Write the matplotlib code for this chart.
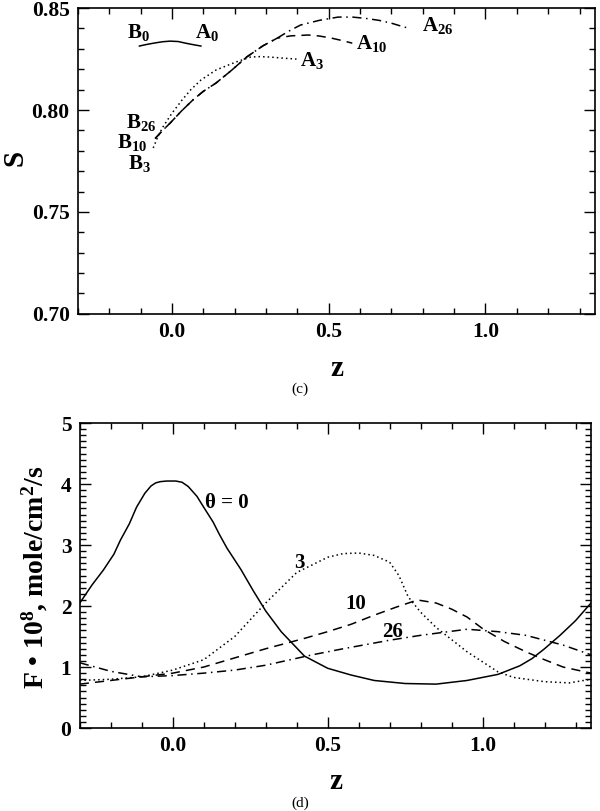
import matplotlib
matplotlib.use("Agg")
import matplotlib.pyplot as plt
from matplotlib.ticker import MultipleLocator

plt.rcParams['font.family'] = ['Liberation Serif', 'DejaVu Serif']
plt.rcParams['font.weight'] = 'bold'
plt.rcParams['mathtext.fontset'] = 'custom'
plt.rcParams['mathtext.rm'] = 'Liberation Serif:bold'
plt.rcParams['mathtext.bf'] = 'Liberation Serif:bold'
plt.rcParams['mathtext.it'] = 'Liberation Serif:bold'

# ---------------- panel (c): S vs z ----------------
c_z0 = [-0.104, -0.08, -0.055, -0.03, -0.006, 0.02, 0.043, 0.07, 0.092]
c_s0 = [0.8314, 0.8322, 0.8329, 0.8335, 0.8338, 0.8336, 0.8328, 0.8320, 0.8314]

c_z3 = [-0.06, -0.045, -0.029, 0.0, 0.032, 0.06, 0.092, 0.14, 0.203, 0.251, 0.28, 0.311, 0.35, 0.397]
c_s3 = [0.7814, 0.7870, 0.7917, 0.7985, 0.8049, 0.8100, 0.8147, 0.8196, 0.8235, 0.8260, 0.8262, 0.8260, 0.8255, 0.8250]

c_z10 = [-0.054, -0.03, -0.006, 0.03, 0.067, 0.10, 0.14, 0.19, 0.238, 0.29, 0.336, 0.38, 0.435, 0.47, 0.508, 0.545, 0.575]
c_s10 = [0.7860, 0.7900, 0.7936, 0.7995, 0.8050, 0.8092, 0.8132, 0.8195, 0.8260, 0.8315, 0.8353, 0.8364, 0.8368, 0.8363, 0.8353, 0.8340, 0.8328]

c_z26 = [-0.054, -0.03, -0.006, 0.03, 0.067, 0.10, 0.14, 0.19, 0.238, 0.29, 0.336, 0.37, 0.41, 0.47, 0.53, 0.575, 0.616, 0.66, 0.70, 0.73, 0.758]
c_s26 = [0.7860, 0.7900, 0.7936, 0.7995, 0.8050, 0.8092, 0.8132, 0.8195, 0.8260, 0.8315, 0.8353, 0.8385, 0.8417, 0.8440, 0.8456, 0.8456, 0.8450, 0.8440, 0.8426, 0.8412, 0.8400]

c_labels = ['B$_0$', 'A$_0$', 'A$_{26}$', 'A$_{10}$', 'A$_3$', 'B$_{26}$', 'B$_{10}$', 'B$_3$']
c_label_z = [-0.108, 0.111, 0.848, 0.638, 0.448, -0.098, -0.127, -0.105]
c_label_s = [0.8382, 0.8382, 0.8417, 0.8328, 0.8245, 0.7940, 0.7843, 0.7740]

# ---------------- panel (d): F vs z ----------------
d_z0 = [-0.30, -0.26, -0.224, -0.19, -0.169, -0.14, -0.117, -0.09, -0.07, -0.055, -0.04, -0.02, 0.01, 0.03, 0.05, 0.078, 0.10, 0.13,
        0.15, 0.175, 0.22, 0.26, 0.30, 0.35, 0.425, 0.50, 0.575, 0.65, 0.75, 0.85, 0.95, 1.05, 1.12, 1.16, 1.20, 1.25, 1.30, 1.35]
d_f0 = [2.05, 2.35, 2.59, 2.85, 3.08, 3.35, 3.62, 3.85, 3.97, 4.02, 4.04, 4.05, 4.05, 4.03, 3.96, 3.80, 3.62, 3.38,
        3.18, 2.95, 2.60, 2.25, 1.92, 1.58, 1.18, 0.98, 0.87, 0.78, 0.73, 0.72, 0.78, 0.88, 1.02, 1.14, 1.30, 1.52, 1.76, 2.05]

d_z3 = [-0.30, -0.2, -0.1, 0.0, 0.1, 0.2, 0.3, 0.4, 0.5, 0.55, 0.6, 0.65, 0.70, 0.73, 0.76, 0.80, 0.85, 0.95, 1.05, 1.10, 1.20, 1.28, 1.35]
d_f3 = [0.78, 0.80, 0.84, 0.95, 1.12, 1.50, 2.05, 2.55, 2.80, 2.86, 2.87, 2.83, 2.72, 2.50, 2.15, 1.90, 1.65, 1.25, 0.92, 0.83, 0.76, 0.74, 0.80]

d_z10 = [-0.3, -0.2, -0.1, 0.0, 0.1, 0.2, 0.3, 0.425, 0.5, 0.575, 0.65, 0.72, 0.79, 0.85, 0.9, 0.95, 1.0, 1.07, 1.14, 1.2, 1.26, 1.35]
d_f10 = [0.72, 0.78, 0.84, 0.90, 1.00, 1.15, 1.30, 1.47, 1.58, 1.70, 1.85, 1.98, 2.10, 2.05, 1.95, 1.82, 1.63, 1.42, 1.25, 1.12, 1.00, 0.90]

d_z26 = [-0.3, -0.2, -0.1, 0.0, 0.1, 0.2, 0.3, 0.45, 0.55, 0.70, 0.80, 0.86, 0.95, 1.05, 1.14, 1.26, 1.35]
d_f26 = [1.07, 0.93, 0.84, 0.86, 0.90, 0.95, 1.03, 1.20, 1.30, 1.44, 1.52, 1.56, 1.62, 1.58, 1.52, 1.36, 1.20]

d_labels = ['θ = 0', '3', '10', '26']
d_label_z = [0.175, 0.41, 0.59, 0.71]
d_label_f = [3.69, 2.70, 2.03, 1.57]

fig = plt.figure(figsize=(6.0, 8.11), dpi=100)
ax1 = fig.add_axes([0.130, 0.613, 0.862, 0.377])
ax2 = fig.add_axes([0.133, 0.1023, 0.852, 0.376])

lw = 1.1
ax1.plot(c_z0, c_s0, color='black', lw=lw, linestyle='-')
ax1.plot(c_z3, c_s3, color='black', lw=lw, linestyle=(0, (1, 2)))
ax1.plot(c_z10, c_s10, color='black', lw=lw, linestyle=(0, (6, 4)))
ax1.plot(c_z26, c_s26, color='black', lw=lw, linestyle=(0, (6, 3, 1, 3)))
for t, x, y in zip(c_labels, c_label_z, c_label_s):
    ax1.text(x, y, t, ha='center', va='center', fontsize=15, fontweight='bold')

ax1.set_xlim(-0.3, 1.35)
ax1.set_ylim(0.70, 0.85)
ax1.set_xticks([0.0, 0.5, 1.0])
ax1.set_xticklabels(['0.0', '0.5', '1.0'])
ax1.xaxis.set_minor_locator(MultipleLocator(0.1))
ax1.set_yticks([0.70, 0.75, 0.80, 0.85])
ax1.set_yticklabels(['0.70', '0.75', '0.80', '0.85'])
ax1.yaxis.set_minor_locator(MultipleLocator(0.01))
ax1.set_xlabel('z', fontsize=21, fontweight='bold')
ax1.set_ylabel('S', fontsize=21, fontweight='bold')
ax1.xaxis.set_label_coords(0.5, -0.135)
ax1.yaxis.label.set_verticalalignment('center')
ax1.yaxis.set_label_coords(-0.122, 0.51)

ax2.plot(d_z0, d_f0, color='black', lw=lw, linestyle='-')
ax2.plot(d_z3, d_f3, color='black', lw=lw, linestyle=(0, (1, 2)))
ax2.plot(d_z10, d_f10, color='black', lw=lw, linestyle=(0, (6, 4)))
ax2.plot(d_z26, d_f26, color='black', lw=lw, linestyle=(0, (6, 3, 1, 3)))
for t, x, y in zip(d_labels, d_label_z, d_label_f):
    ax2.text(x, y, t, ha='center', va='center', fontsize=15, fontweight='bold')

ax2.set_xlim(-0.3, 1.35)
ax2.set_ylim(0, 5)
ax2.set_xticks([0.0, 0.5, 1.0])
ax2.set_xticklabels(['0.0', '0.5', '1.0'])
ax2.xaxis.set_minor_locator(MultipleLocator(0.1))
ax2.set_yticks([0, 1, 2, 3, 4, 5])
ax2.set_yticklabels(['0', '1', '2', '3', '4', '5'])
ax2.yaxis.set_minor_locator(MultipleLocator(0.1))
ax2.set_xlabel('z', fontsize=21, fontweight='bold')
ax2.set_ylabel('F • 10$^8$, mole/cm$^2$/s', fontsize=20, fontweight='bold')
ax2.xaxis.set_label_coords(0.5, -0.13)
ax2.yaxis.label.set_verticalalignment('center')
ax2.yaxis.set_label_coords(-0.088, 0.495)

for ax in (ax1, ax2):
    for sp in ax.spines.values():
        sp.set_linewidth(1.2)
    ax.tick_params(which='both', direction='in', top=True, right=True, width=1.0)
    ax.tick_params(which='major', length=8, labelsize=15.5, pad=6)
    ax.tick_params(which='minor', length=4)
    for lab in ax.get_xticklabels() + ax.get_yticklabels():
        lab.set_fontweight('bold')

fig.text(0.5, 1 - 389 / 811, '(c)', ha='center', va='center', fontsize=11, fontweight='normal')
fig.text(0.5, 1 - 803 / 811, '(d)', ha='center', va='center', fontsize=11, fontweight='normal')

fig.savefig('out.png', dpi=100)
